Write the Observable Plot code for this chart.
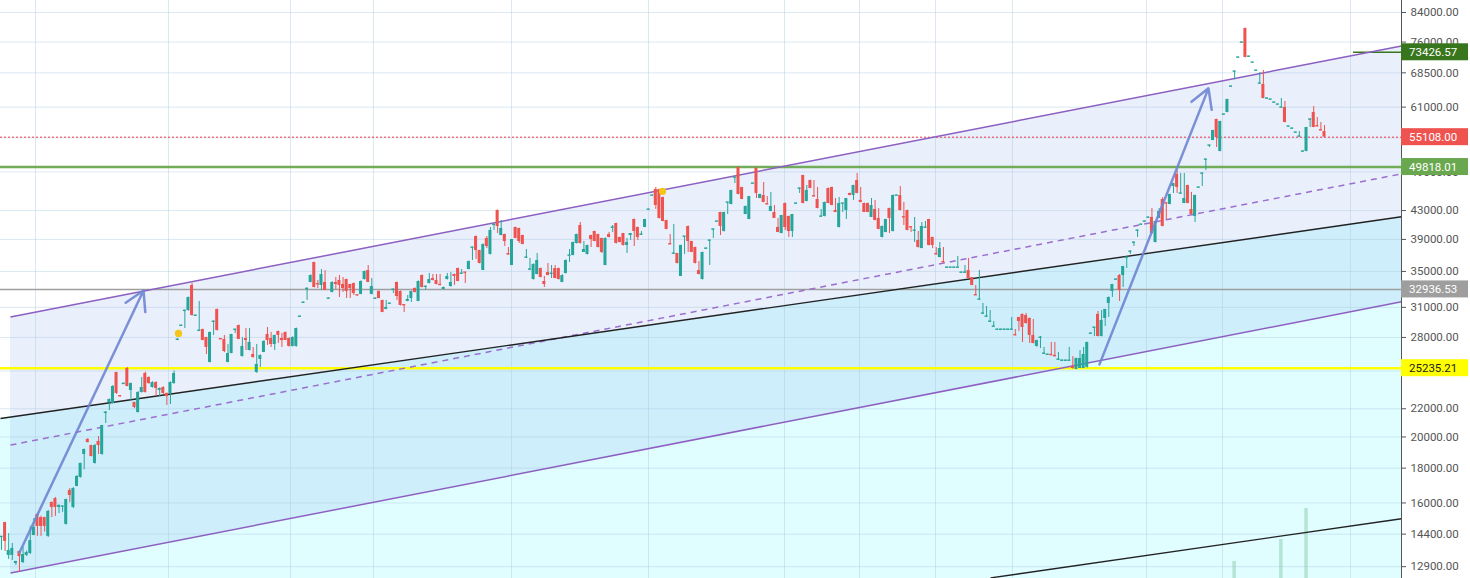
<!DOCTYPE html>
<html><head><meta charset="utf-8">
<script src="https://cdn.jsdelivr.net/npm/d3@7"></script>
<script src="https://cdn.jsdelivr.net/npm/@observablehq/plot@0.6"></script>
<style>html,body{margin:0;padding:0;background:#fff;overflow:hidden}svg{display:block}</style>
</head><body><div id="chart"></div>
<script>
// Candles: [open, high, low, close] in thousands
const candlesA = [
[14.24,14.29,13.63,14.29],[14.98,14.98,13.58,14.05],[13.40,14.43,13.22,13.63],[13.40,13.95,13.17,13.72],
[13.04,13.13,12.95,13.13],[13.58,13.60,12.65,13.35],[13.08,13.77,13.04,13.44],[13.40,13.60,13.35,13.53],
[13.49,14.78,13.44,14.09],[14.33,15.18,14.33,14.73],[15.39,15.39,14.29,14.78],[15.23,15.30,14.29,14.78],
[15.23,15.25,14.50,14.78],[14.29,15.60,14.24,15.55],[16.03,16.05,15.23,15.76],[16.24,16.30,15.29,15.76],
[15.76,15.90,15.44,15.87],[15.78,15.85,15.50,15.83],[14.88,16.20,14.85,16.19],[16.69,16.80,16.03,16.41],
[15.76,16.85,15.70,16.80],[16.92,17.55,16.90,17.50],[17.44,18.30,17.40,18.29],[18.85,19.20,17.90,19.17],
[19.83,19.90,19.60,19.63],[19.43,19.45,18.70,18.72],[18.29,19.50,18.25,19.43],[19.70,20.03,18.85,19.43],
[18.85,20.80,18.80,20.79],[21.65,21.80,20.93,21.75],[22.47,22.75,21.87,22.70],[22.40,23.80,22.35,23.72],
[24.87,24.90,23.10,23.17],[22.98,23.00,22.90,22.93],[23.90,24.00,23.90,23.96],[25.21,25.30,23.70,23.72],
[23.40,24.00,22.62,23.96],[22.47,22.50,22.00,22.10],[21.72,23.30,21.70,23.25],[23.25,24.46,23.20,23.64],
[24.79,24.90,23.20,23.25],[24.46,24.50,23.90,23.96],[23.64,24.10,23.60,24.04],[24.04,24.10,22.93,23.56],
[23.40,23.60,22.93,23.56],[23.64,23.70,23.10,23.17],[23.17,23.20,22.25,22.93],[23.17,24.10,22.32,24.04],
[23.96,25.00,23.90,24.79]
];
const candlesB = [
[27.75,27.90,27.70,27.81],[29.10,29.20,29.10,29.15],[30.60,30.70,28.86,30.67],[30.67,32.10,30.60,32.05],
[33.38,33.60,30.10,30.16],[30.10,30.20,30.10,30.16],[28.60,31.62,28.60,28.67],[28.76,28.80,27.70,27.71],
[28.00,28.00,26.43,27.07],[25.73,28.50,25.70,28.48],[29.50,29.60,28.19,29.55],[30.78,30.80,28.60,28.67],
[27.85,27.90,27.80,27.81],[27.81,28.19,26.60,26.70],[25.73,27.34,25.70,26.52],[26.52,28.30,26.50,28.28],
[28.70,28.80,28.38,28.76],[29.15,29.20,27.80,27.81],[26.25,28.00,26.20,27.16],[27.90,28.86,26.79,27.71],
[26.79,28.86,26.75,27.53],[26.43,27.07,26.10,26.17],[24.87,27.34,24.80,25.56],[25.99,26.40,25.30,26.34],
[26.61,27.70,26.60,27.62],[28.28,28.96,27.25,27.71],[27.90,28.48,27.07,27.34],[27.34,28.20,26.79,28.19],
[28.57,28.60,27.43,28.19],[27.90,28.38,27.07,27.71],[28.48,28.50,27.70,27.71],[27.90,27.95,27.10,27.16],
[27.16,28.05,27.10,28.00],[27.16,28.90,27.10,28.86],[30.00,30.10,30.00,30.06],[31.45,31.55,31.45,31.51],
[32.95,33.10,31.73,33.04],[33.72,34.60,33.70,34.52],[36.08,36.10,33.10,33.15],[33.55,33.95,33.04,33.49],
[33.38,35.23,32.82,34.64],[33.72,35.11,32.80,32.82],[31.90,32.00,31.90,31.94],[32.60,33.80,32.55,33.72],
[33.72,34.29,32.93,33.49],[33.95,34.52,32.05,33.38],[33.49,34.29,32.60,33.04],[34.06,34.10,31.94,32.71],
[33.49,33.50,31.94,33.04],[33.60,33.65,32.27,32.49],[32.30,32.35,32.20,32.27],[32.38,33.90,32.35,33.83],
[34.06,35.05,34.00,34.99],[35.11,35.71,33.70,33.72],[32.38,34.18,32.35,33.26],[31.90,32.00,31.90,31.94],
[32.71,32.75,31.90,31.94],[31.73,31.75,30.45,30.47],[30.78,31.73,30.75,30.99],[31.35,31.45,31.35,31.41],
[32.88,32.95,32.49,32.93],[33.72,33.75,31.73,32.16],[32.71,32.75,31.15,31.20],[31.25,31.25,30.47,31.20],
[31.62,32.27,31.60,31.84],[31.94,32.75,31.51,32.71],[33.04,33.10,32.55,32.60],[31.62,33.90,31.60,33.83],
[34.52,34.60,33.10,33.15],[33.20,33.30,32.82,33.26],[33.60,34.76,33.55,34.06],[34.18,34.64,33.90,33.95],
[33.95,34.64,33.45,33.49],[33.49,34.64,33.35,33.38],[32.93,33.20,32.90,33.15],[34.06,34.76,34.00,34.41],
[33.26,34.88,33.20,33.72],[34.64,34.70,33.38,34.41],[35.35,35.40,33.80,33.83],[34.70,35.23,34.70,34.76],
[34.88,34.90,33.60,34.82],[35.23,36.25,35.20,36.20],[37.90,38.00,36.32,37.95],[39.39,39.45,36.45,37.57]
];
const candlesC = [
[37.57,37.60,35.90,35.96],[35.11,38.40,35.10,38.34],[39.13,39.39,37.82,38.08],[37.07,40.61,37.00,40.20],
[40.95,41.05,40.20,41.02],[43.01,43.10,39.79,40.75],[39.52,41.58,39.50,40.47],[39.66,39.70,38.08,38.73],
[37.12,37.95,36.94,37.07],[35.71,39.00,35.70,38.99],[40.61,40.65,39.10,39.13],[40.47,40.50,38.47,38.73],
[39.52,39.55,38.30,38.34],[36.65,37.70,36.60,36.69],[35.20,36.57,35.20,35.23],[34.06,35.90,34.00,35.84],
[34.64,37.19,34.60,36.32],[35.35,35.40,34.25,34.29],[33.83,34.41,33.15,33.49],[34.88,35.96,34.50,34.52],
[34.70,35.71,34.18,34.76],[35.35,35.71,34.15,34.18],[35.35,35.40,34.00,34.06],[33.72,34.60,33.70,34.52],
[34.76,36.40,34.70,36.32],[36.90,37.70,36.08,36.94],[36.94,38.65,36.90,38.60],[38.47,39.70,38.40,39.66],
[40.88,41.30,38.40,38.47],[37.32,38.73,37.30,37.70],[37.07,38.25,37.00,38.21],[39.52,39.55,37.95,38.99],
[40.06,40.10,38.70,38.73],[39.66,39.70,37.90,37.95],[39.13,39.15,37.19,37.32],[35.71,39.20,35.70,39.13],
[39.66,39.93,39.20,39.26],[40.55,40.88,39.93,40.61],[41.16,41.20,38.40,38.47],[39.26,39.30,38.55,38.60],
[39.79,39.80,38.15,38.21],[38.21,39.13,37.19,38.60],[39.52,39.80,38.86,39.79],[41.72,41.80,38.08,40.06],
[40.61,40.65,38.86,39.26],[39.60,40.06,39.60,39.66],[40.61,41.75,40.60,41.72],[43.10,43.20,43.10,43.16],
[45.20,45.30,45.20,45.25],[46.18,46.50,43.16,43.74],[46.18,46.20,41.80,41.87],[44.94,45.00,41.40,41.44],
[41.58,41.60,40.30,40.34],[38.40,39.66,38.30,38.34],[37.15,41.02,37.10,37.19],[37.19,37.20,35.90,35.96],
[34.41,38.25,34.40,38.21],[39.35,39.40,37.07,39.39],[40.75,40.80,37.32,38.73],[38.73,38.75,37.30,37.32],
[37.95,38.00,35.90,35.96],[35.11,36.20,34.60,34.64],[34.06,37.35,34.00,37.32],[37.78,37.90,37.75,37.82],
[38.82,38.90,35.71,38.86],[40.30,40.40,39.13,40.34],[41.40,41.50,41.40,41.44],[42.72,42.75,39.52,40.75],
[40.06,42.75,40.00,42.72],[44.15,44.20,42.43,44.19],[43.89,46.05,43.85,46.02],[48.05,48.10,47.12,48.09],
[49.74,49.80,45.35,45.40],[46.49,46.50,44.60,44.64],[42.43,43.65,42.40,43.60],[41.72,45.10,41.70,45.09],
[47.08,47.15,47.05,47.12],[49.60,49.65,44.79,45.56],[44.79,45.45,44.75,45.40],[45.25,47.28,44.15,44.19],
[43.94,45.09,43.85,43.89],[42.87,45.71,42.85,43.60],[42.72,43.74,41.85,41.87],[40.61,41.87,39.90,39.93]
];
const candlesD = [
[39.79,42.30,39.75,42.29],[44.04,44.10,40.20,40.61],[42.15,42.20,39.26,40.06],[40.06,42.45,39.26,42.43],
[44.00,44.10,43.95,44.04],[46.28,46.40,45.56,46.33],[48.41,48.45,44.00,44.04],[44.34,46.80,44.30,46.02],
[47.60,47.65,46.30,46.33],[45.14,47.60,45.05,45.09],[44.64,46.49,43.25,43.30],[42.10,43.16,42.05,42.15],
[42.15,44.25,42.10,44.19],[46.33,46.40,44.00,44.04],[46.49,46.55,43.70,43.74],[43.01,44.79,42.70,42.72],
[40.61,44.94,40.55,44.04],[44.00,44.10,42.72,44.04],[43.01,44.80,41.72,44.79],[45.56,45.60,45.20,45.25],
[45.25,46.85,44.49,46.80],[47.60,48.74,45.50,45.56],[44.49,46.49,44.15,44.19],[44.04,44.10,42.70,42.72],
[44.04,44.10,42.70,42.72],[42.01,44.79,42.00,43.74],[43.16,44.49,41.55,41.58],[41.87,43.30,40.30,40.34],
[39.26,40.80,39.20,40.75],[39.93,41.75,39.90,41.72],[43.30,43.35,39.79,41.87],[40.06,45.30,40.00,45.25],
[45.20,45.30,45.20,45.25],[45.25,46.65,42.95,43.01],[42.06,44.19,40.88,42.01],[43.01,43.05,40.15,40.20],
[40.66,40.70,39.93,40.61],[40.15,42.01,38.60,40.20],[38.86,40.06,37.90,37.95],[37.82,41.30,37.80,40.75],
[40.56,41.44,40.50,40.61],[41.72,41.75,38.15,38.21],[39.26,39.30,37.82,38.21],[37.12,37.95,37.00,37.07],
[36.69,38.60,36.65,37.82],[36.13,37.95,36.05,36.08],[35.43,35.50,35.40,35.47],[35.43,35.50,35.40,35.47],
[35.43,35.50,35.40,35.47],[35.43,36.82,35.40,35.47],[34.84,34.90,34.80,34.88],[34.84,35.71,34.80,34.88],
[35.11,36.57,34.15,34.18],[34.29,34.30,33.35,33.38],[32.32,33.38,32.25,32.27],[31.80,35.11,31.75,31.84],
[30.33,31.41,30.30,30.37],[30.02,31.10,30.00,30.06],[29.51,30.67,29.50,29.55],[29.02,29.55,29.00,29.06],
[28.72,28.80,28.70,28.76],[28.72,28.80,28.70,28.76],[28.72,28.80,28.70,28.76],[28.72,28.80,28.70,28.76],
[28.72,29.96,28.70,28.76],[28.24,28.76,28.15,28.19],[29.96,29.96,28.57,29.55],[30.27,30.30,27.53,28.96],
[30.16,30.37,29.30,29.35],[29.86,29.90,27.43,28.19],[28.19,29.75,27.40,27.43],[27.16,27.75,27.10,27.71],
[27.95,28.09,26.97,28.00],[26.48,27.07,26.45,26.52],[26.39,26.45,26.35,26.43],[26.43,27.53,26.30,26.34],
[26.34,27.53,26.20,26.25],[25.95,26.61,25.90,25.99],[25.86,25.95,25.85,25.90],[25.86,25.95,25.85,25.90],
[25.86,27.07,25.85,25.90],[25.38,26.25,25.15,25.21],[25.13,26.10,25.10,26.08],[25.21,26.79,25.20,26.08],
[25.21,27.07,25.20,26.43]
];
const candlesE = [
[25.30,27.55,25.25,27.53],[28.34,28.40,28.30,28.38],[28.92,28.96,28.09,28.96],[30.27,30.57,28.05,28.09],
[28.09,30.67,28.05,29.65],[29.86,30.78,29.06,30.78],[31.41,32.10,29.96,32.05],[32.71,33.50,32.05,33.49],
[34.02,34.10,34.00,34.06],[34.52,34.64,31.62,32.82],[34.52,35.60,33.15,35.59],[36.65,36.75,35.35,36.69],
[37.40,37.50,37.07,37.44],[38.55,38.65,38.08,38.60],[40.15,40.25,39.26,40.20],[40.97,41.05,40.90,41.02],
[41.40,41.50,41.35,41.44],[41.96,42.05,41.90,42.01],[42.01,43.30,39.75,39.79],[38.60,41.45,38.55,41.44],
[41.87,43.30,41.85,42.87],[44.64,44.94,40.70,40.75],[44.09,44.10,41.72,44.04],[43.89,45.45,43.85,45.40],
[46.65,47.15,45.56,47.12],[48.58,49.24,45.56,46.49],[45.52,48.74,45.50,45.56],[44.04,48.74,44.00,44.79],
[46.80,46.85,44.00,44.04],[43.16,45.71,42.40,42.43],[42.15,45.30,41.30,45.25],[46.45,46.55,46.40,46.49],
[48.70,48.80,46.65,48.74],[51.05,51.15,49.24,51.10],[53.53,53.65,53.22,53.58],[54.49,56.40,54.45,56.37],
[58.51,58.55,53.22,55.05],[52.51,58.15,52.45,58.11],[59.45,59.60,59.40,59.51],[59.91,62.65,59.85,62.60],
[65.35,65.50,65.30,65.41],[68.75,68.90,66.90,68.81],[72.10,72.25,72.05,72.15],[75.85,76.00,75.80,75.90],
[79.58,79.70,72.10,72.15],[72.30,72.45,72.25,72.40],[70.90,71.00,70.85,70.94],[68.98,69.10,68.95,69.04],
[66.03,68.58,66.00,66.08],[65.86,69.04,62.75,62.81],[62.76,62.90,62.70,62.81],[62.55,62.65,62.50,62.60],
[61.92,62.00,61.90,61.97],[61.50,61.60,61.45,61.55],[60.88,62.81,60.85,60.93],[60.93,62.18,57.85,57.91],
[57.10,57.20,57.05,57.14],[56.70,56.80,56.65,56.75],[55.95,56.05,55.90,55.99],[55.20,56.18,55.15,55.24],
[52.47,52.60,52.45,52.51],[52.51,56.95,52.45,56.94],[58.47,58.60,56.94,58.51],[59.91,61.13,56.90,56.94],
[57.19,58.90,57.10,57.14],[56.42,57.91,56.30,56.37],[56.18,57.33,55.10,55.108]
];

// Volume (only a few bars visible), by candle index, arbitrary units
const volIdx = [343, 356, 363];
const volumes = [1.7, 3.9, 7.0];

// Grid values, labelled axis ticks and vertical grid positions (candle index)
const gridValues = [12900,14400,16000,18000,20000,22000,25000,28000,31000,35000,39000,43000,49000,55000,61000,68500,76000,84000];
const tickLabels = [12900,14400,16000,18000,20000,22000,28000,31000,35000,39000,43000,49000,61000,68500,76000,84000];
const gridIdx = [9.46,46.45,80.39,103.47,141.86,179.97,217.8,238.66,259.8,281.21,318.49,339.63,375.23];

// Horizontal price levels
const levelValues = [73426.57, 55108.00, 49818.01, 32936.53, 25235.21];
const shortLevelStart = 376.07; // index where the 73426.57 segment begins

// Drawings: [index, price]
const channelUpper = [[2.5, 29996], [389.42, 75030]];
const channelMid   = [[2.5, 19460], [389.42, 48680]];
const channelLower = [[2.5, 12625], [389.42, 31580]];
const blackUpper   = [[-0.278, 21290], [389.42, 42100]];
const blackLower   = [[275.1, 12420], [389.42, 15170]];
const arrowFrom = [[5.01, 13530], [305.41, 25560]];
const arrowTo   = [[39.5, 32820], [335.73, 65000]];
const markerPts = [[49.23, 28380], [183.86, 45870]];

const xDomain = [-0.278, 389.42];
const yDomain = [12394, 87478];

const candles = [...candlesA, ...candlesB, ...candlesC, ...candlesD, ...candlesE]
  .map((d, i) => ({i, o: d[0]*1000, h: d[1]*1000, l: d[2]*1000, c: d[3]*1000}));
const UP = "#26a69a", DN = "#ef5350";
const col = d => d.c >= d.o ? UP : DN;

const seg = (p) => [{x1: p[0][0], y1: p[0][1], x2: p[1][0], y2: p[1][1]}];
const gridColor = "rgba(170,200,225,0.42)";

const chart = Plot.plot({
  width: 1470, height: 578,
  marginLeft: 0, marginRight: 69, marginTop: 0, marginBottom: 0,
  style: {fontFamily: "Roboto, sans-serif", fontSize: "11.5px", color: "#555", background: "#fff"},
  x: {domain: xDomain, axis: null},
  y: {type: "log", domain: yDomain, axis: "right", ticks: tickLabels, tickFormat: d => d.toFixed(2), tickSize: 4, tickPadding: 5, label: null},
  color: {type: "identity"},
  marks: [
    Plot.areaY(blackUpper.map(p => ({x: p[0], lo: yDomain[0], hi: p[1]})), {x: "x", y1: "lo", y2: "hi", fill: "#e0feff"}),
    Plot.areaY(channelUpper.map((p, k) => ({x: p[0], lo: channelLower[k][1], hi: p[1]})), {x: "x", y1: "lo", y2: "hi", fill: "rgb(100,140,230)", fillOpacity: 0.14}),
    Plot.ruleY(gridValues, {stroke: gridColor}),
    Plot.ruleX(gridIdx, {stroke: gridColor}),
    Plot.ruleY([levelValues[3]], {stroke: "#9e9e9e", strokeWidth: 1.5}),
    Plot.ruleY([levelValues[4]], {stroke: "#ffff00", strokeWidth: 2.6}),
    Plot.ruleY([levelValues[2]], {stroke: "#6aa84f", strokeWidth: 2.6, strokeOpacity: 0.95}),
    Plot.ruleY([levelValues[1]], {stroke: "#f23645", strokeWidth: 1, strokeDasharray: "2,2"}),
    Plot.ruleY([{y: levelValues[0], x1: shortLevelStart, x2: xDomain[1]}], {y: "y", x1: "x1", x2: "x2", stroke: "#38761d", strokeWidth: 1.5}),
    Plot.link(seg(channelUpper), {x1: "x1", y1: "y1", x2: "x2", y2: "y2", stroke: "#8c5fc0", strokeWidth: 1.5}),
    Plot.link(seg(channelLower), {x1: "x1", y1: "y1", x2: "x2", y2: "y2", stroke: "#8c5fc0", strokeWidth: 1.5}),
    Plot.link(seg(channelMid), {x1: "x1", y1: "y1", x2: "x2", y2: "y2", stroke: "#9b6fce", strokeWidth: 1.5, strokeDasharray: "6,5"}),
    Plot.link(seg(blackUpper), {x1: "x1", y1: "y1", x2: "x2", y2: "y2", stroke: "#222", strokeWidth: 1.4}),
    Plot.link(seg(blackLower), {x1: "x1", y1: "y1", x2: "x2", y2: "y2", stroke: "#222", strokeWidth: 1.4}),
    Plot.ruleX(candles, {x: "i", y1: "l", y2: "h", stroke: col, strokeWidth: 1}),
    Plot.rect(candles, {x1: d => d.i - 0.42, x2: d => d.i + 0.42, y1: "o", y2: "c", fill: col}),
    Plot.arrow(arrowFrom.map((p, k) => ({x1: p[0], y1: p[1], x2: arrowTo[k][0], y2: arrowTo[k][1]})),
      {x1: "x1", y1: "y1", x2: "x2", y2: "y2", stroke: "#6f85d2", strokeWidth: 2.5, strokeOpacity: 0.9, headLength: 13}),
    Plot.dot(markerPts, {x: d => d[0], y: d => d[1], r: 3.6, fill: "#f5c518", stroke: "none"}),
    Plot.ruleX([xDomain[1]], {stroke: "#555", strokeWidth: 1})
  ]
});
document.getElementById("chart").appendChild(chart);

const xs = chart.scale("x"), ys = chart.scale("y");
chart.querySelectorAll('g[aria-label="rect"] rect').forEach(r => {
  const h = +r.getAttribute("height");
  if (h < 1.4) { r.setAttribute("y", +r.getAttribute("y") - (1.4 - h) / 2); r.setAttribute("height", 1.4); }
});
const vScale = d3.scaleLinear().domain([0, 57.8]).range([578, 0]);
const areas = chart.querySelectorAll('g[aria-label="area"]');
const volG = document.createElementNS("http://www.w3.org/2000/svg", "g");
areas[areas.length - 1].after(volG);
d3.select(volG).selectAll("line").data(volIdx).join("line")
  .attr("x1", d => xs.apply(d)).attr("x2", d => xs.apply(d))
  .attr("y1", vScale(0)).attr("y2", (d, k) => vScale(volumes[k]))
  .attr("stroke", "#b2e5d3").attr("stroke-width", 3.5);
const badgeFill = ["#38761d", "#ef5350", "#6aa84f", "#9e9e9e", "#ffff00"];
const badgeText = ["#fff", "#fff", "#fff", "#fff", "#222"];
const bg = d3.select(chart).append("g").attr("text-anchor", "start");
levelValues.forEach((v, k) => {
  const y = ys.apply(v);
  bg.append("rect").attr("x", 1401).attr("y", y - 8.5).attr("width", 67).attr("height", 17).attr("fill", badgeFill[k]);
  bg.append("text").attr("x", 1409).attr("y", y).attr("dy", "0.35em").attr("fill", badgeText[k])
    .attr("text-anchor", "start").attr("font-size", 11.5).attr("font-family", "Roboto, sans-serif").text(v.toFixed(2));
});
</script></body></html>
